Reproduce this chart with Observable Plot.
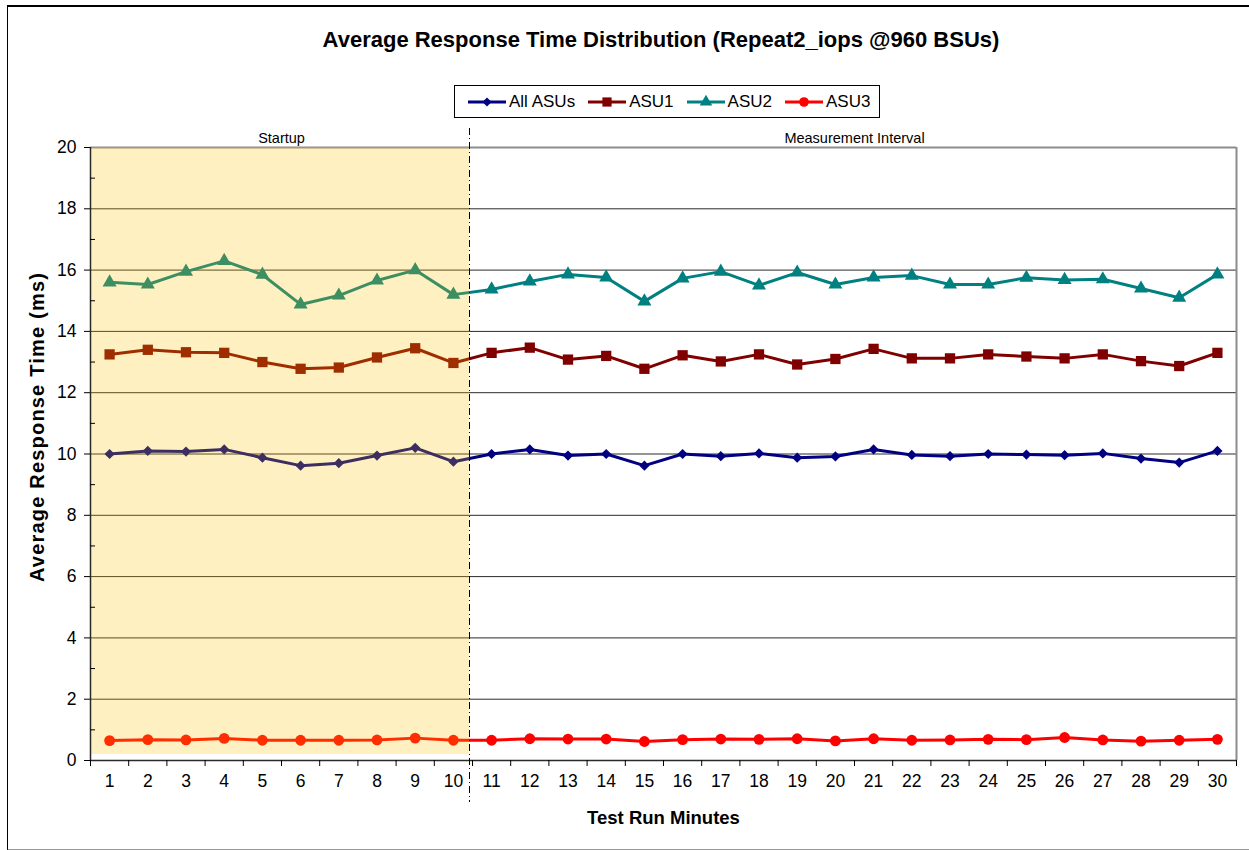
<!DOCTYPE html>
<html>
<head>
<meta charset="utf-8">
<script src="https://cdn.jsdelivr.net/npm/d3@7"></script>
<script src="https://cdn.jsdelivr.net/npm/@observablehq/plot@0.6"></script>
<style>
  body { margin: 0; background: #fff; font-family: "Liberation Sans", Arial, sans-serif; }
  #wrap { position: relative; width: 1249px; height: 850px; overflow: hidden; }
  #border { position: absolute; left: 7px; top: 5px; width: 1260px; height: 842px;
            border-left: 1px solid #000; border-top: 2px solid #000; border-bottom: 2px solid #999; }
  #title { position: absolute; left: 0; width: 1322px; top: 27px; text-align: center;
           font-weight: bold; font-size: 22px; color: #000; }
  #legend { position: absolute; left: 454px; top: 85px; height: 31px; border: 1px solid #000;
            display: flex; align-items: center; padding: 0 9px 0 13px; font-size: 17px; background: #fff; }
  #legend .item { display: flex; align-items: center; margin-right: 13px; }
  #legend .item:last-child { margin-right: 0; }
  #legend svg { display: block; margin-right: 3px; }
  #chart { position: absolute; left: 0; top: 0; }
</style>
</head>
<body>
<div id="wrap">
  <div id="border"></div>
  <div id="chart"></div>
  <div id="title"></div>
  <div id="legend"></div>
</div>
<script>
// ---------- data ----------
const chartTitle = "Average Response Time Distribution (Repeat2_iops @960 BSUs)";
const xTitle = "Test Run Minutes";
const yTitle = "Average Response Time (ms)";
const phaseLabels = ["Startup", "Measurement Interval"];
const startupMinutes = 10;
const minutes = d3.range(1, 31);
const yTicks = [0, 2, 4, 6, 8, 10, 12, 14, 16, 18, 20];
const yMinorTicks = [1, 3, 5, 7, 9, 11, 13, 15, 17, 19];

const seriesNames = ["All ASUs", "ASU1", "ASU2", "ASU3"];
const allASUs = [10.0, 10.1, 10.08, 10.15, 9.88, 9.62, 9.7, 9.95, 10.2, 9.75,
                 10.0, 10.15, 9.95, 10.0, 9.62, 10.0, 9.93, 10.02, 9.88, 9.92,
                 10.15, 9.97, 9.93, 10.0, 9.98, 9.96, 10.02, 9.85, 9.72, 10.1];
const asu1 = [13.25, 13.4, 13.32, 13.3, 13.0, 12.78, 12.82, 13.15, 13.45, 12.97,
              13.3, 13.47, 13.08, 13.2, 12.78, 13.22, 13.02, 13.25, 12.92, 13.1,
              13.43, 13.12, 13.12, 13.25, 13.18, 13.12, 13.25, 13.03, 12.87, 13.3];
const asu2 = [15.6, 15.53, 15.95, 16.3, 15.85, 14.88, 15.17, 15.66, 16.0, 15.2,
              15.37, 15.63, 15.86, 15.76, 14.98, 15.73, 15.95, 15.5, 15.92, 15.53,
              15.76, 15.82, 15.53, 15.53, 15.75, 15.68, 15.7, 15.4, 15.1, 15.86];
const asu3 = [0.65, 0.68, 0.67, 0.72, 0.66, 0.66, 0.66, 0.67, 0.73, 0.66,
              0.66, 0.71, 0.70, 0.70, 0.62, 0.68, 0.70, 0.69, 0.71, 0.64,
              0.71, 0.66, 0.67, 0.69, 0.68, 0.75, 0.67, 0.63, 0.66, 0.69];
const seriesValues = [allASUs, asu1, asu2, asu3];
const seriesColors = ["#000080", "#800000", "#008080", "#ff0000"];
const seriesSymbols = ["diamond2", "square", "triangle", "circle"];
const seriesR = [4.6, 5.8, 5.2, 5.4];

// ---------- derived ----------
const rows = seriesNames.flatMap((name, i) =>
  minutes.map((m, j) => ({series: name, minute: m, value: seriesValues[i][j], idx: i})));
const xLo = minutes[0] - 0.5, xHi = minutes[minutes.length - 1] + 0.5;
const split = startupMinutes + 0.5;
const boundaries = d3.range(xLo, xHi + 0.01, 1);
const phases = [
  {label: phaseLabels[0], x1: xLo, x2: split},
  {label: phaseLabels[1], x1: split, x2: xHi}
];

const marks = [
  Plot.ruleY(yTicks.slice(1, -1), {stroke: "#2a2a2a", strokeWidth: 1}),
  Plot.ruleY([yTicks[yTicks.length - 1]], {stroke: "#8c8c8c", strokeWidth: 2}),
  Plot.ruleX([xHi], {stroke: "#8c8c8c", strokeWidth: 2}),
];
seriesNames.forEach((name, i) => {
  const d = rows.filter(r => r.idx === i);
  marks.push(Plot.line(d, {x: "minute", y: "value", stroke: seriesColors[i], strokeWidth: 3}));
  marks.push(Plot.dot(d, {x: "minute", y: "value", fill: seriesColors[i], stroke: "none",
                          symbol: () => seriesSymbols[i], r: seriesR[i]}));
});
marks.push(
  Plot.rect([phases[0]], {x1: "x1", x2: "x2", y1: () => yTicks[0], y2: () => yTicks[yTicks.length - 1],
                          insetBottom: 6, insetRight: 3, fill: "#ffbf00", fillOpacity: 0.24}),
  Plot.ruleX([xLo], {stroke: "#2a2a2a", strokeWidth: 1.5}),
  Plot.ruleY([yTicks[0]], {stroke: "#2a2a2a", strokeWidth: 1.5}),
  Plot.ruleX([split], {stroke: "#000", strokeWidth: 1, strokeDasharray: "7,3,1,3", dx: -3, insetTop: -19, insetBottom: -42}),
  Plot.axisY(yTicks, {tickSize: 6, tickPadding: 8, fontSize: 17.5, label: null, stroke: "#000", fill: "#000"}),
  Plot.axisY(yMinorTicks, {tickSize: 5, dx: 5, tickFormat: () => "", label: null, stroke: "#000"}),
  Plot.axisX(boundaries, {tickSize: 6, tickFormat: () => "", label: null, stroke: "#000"}),
  Plot.axisX(minutes, {tickSize: 0, tickPadding: 14, fontSize: 17.5, label: null, fill: "#000"}),
  Plot.text(phases, {x: d => (d.x1 + d.x2) / 2, text: "label", frameAnchor: "top", dy: -15, fontSize: 14.5, fill: "#000"}),
  Plot.text([xTitle], {frameAnchor: "bottom", dy: 63, fontWeight: "bold", fontSize: 18.5, fill: "#000"}),
  Plot.text([yTitle], {frameAnchor: "left", rotate: -90, dx: -53, dy: -27, textAnchor: "middle", fontWeight: "bold", fontSize: 20, fill: "#000"})
);

const chart = Plot.plot({
  width: 1249,
  height: 850,
  marginLeft: 90,
  marginRight: 13,
  marginTop: 147,
  marginBottom: 90,
  style: {fontFamily: '"Liberation Sans", Arial, sans-serif', background: "transparent", color: "#000", overflow: "visible"},
  x: {type: "linear", domain: [xLo, xHi], axis: null},
  y: {type: "linear", domain: [yTicks[0], yTicks[yTicks.length - 1]], axis: null},
  marks
});
document.getElementById("chart").appendChild(chart);
// slight tracking on the rotated axis title, as in the original
chart.querySelectorAll("text").forEach(t => { if (t.textContent === yTitle) t.style.letterSpacing = "1.2px"; });

document.getElementById("title").textContent = chartTitle;
const legend = document.getElementById("legend");
seriesNames.forEach((name, i) => {
  const item = document.createElement("div");
  item.className = "item";
  const ns = "http://www.w3.org/2000/svg";
  const svg = document.createElementNS(ns, "svg");
  svg.setAttribute("width", 38); svg.setAttribute("height", 14);
  const line = document.createElementNS(ns, "line");
  line.setAttribute("x1", 0); line.setAttribute("x2", 38); line.setAttribute("y1", 7); line.setAttribute("y2", 7);
  line.setAttribute("stroke", seriesColors[i]); line.setAttribute("stroke-width", 3);
  svg.appendChild(line);
  const sym = d3.symbol().type({diamond2: d3.symbolDiamond2, square: d3.symbolSquare, triangle: d3.symbolTriangle, circle: d3.symbolCircle}[seriesSymbols[i]])
                .size(Math.PI * seriesR[i] * seriesR[i] * 0.8);
  const p = document.createElementNS(ns, "path");
  p.setAttribute("d", sym()); p.setAttribute("transform", "translate(19,7)"); p.setAttribute("fill", seriesColors[i]);
  svg.appendChild(p);
  item.appendChild(svg);
  const t = document.createElement("span"); t.textContent = name;
  item.appendChild(t);
  legend.appendChild(item);
});
</script>
</body>
</html>
